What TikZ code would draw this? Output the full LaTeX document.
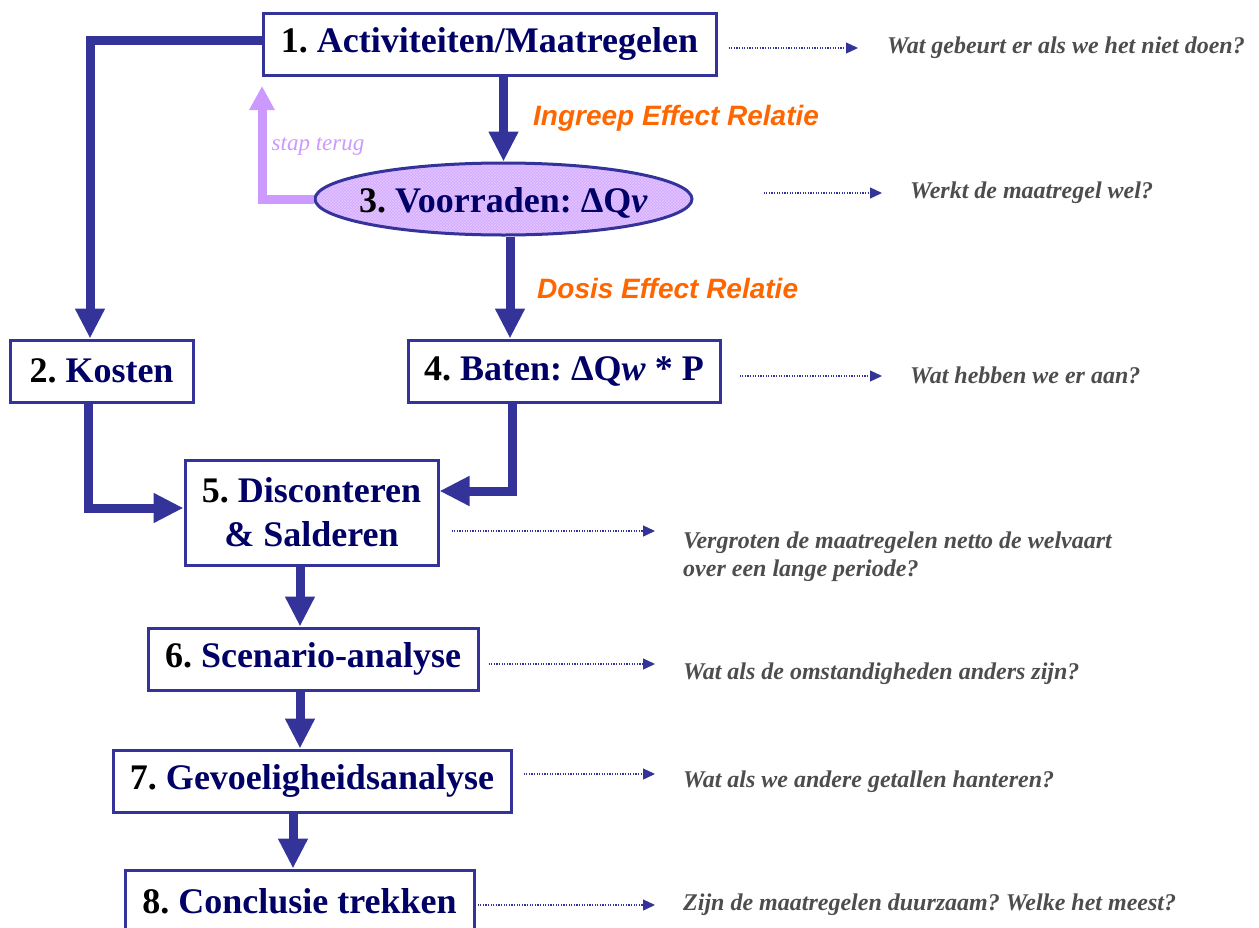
\documentclass[tikz,border=0pt]{standalone}
\usepackage{fontspec}
\setmainfont{Liberation Serif}
\newfontfamily\labelsans{Liberation Sans}
\usetikzlibrary{arrows.meta,shapes.geometric,patterns}

\definecolor{frame}{RGB}{51,51,153}
\definecolor{navy}{RGB}{0,0,102}
\definecolor{relorange}{RGB}{255,102,0}
\definecolor{lilac}{RGB}{204,153,255}
\definecolor{qgray}{RGB}{77,77,77}

\frenchspacing
\begin{document}
\begin{tikzpicture}[x=1pt,y=-1pt,
  stepfont/.style={text=navy, font=\fontsize{36}{44}\selectfont\bfseries},
  stepbox/.style={draw=frame, line width=3pt, fill=white, inner sep=0pt,
    align=center, stepfont},
  flow/.style={draw=frame, line width=9pt,
    -{Triangle[width=28pt,length=30pt]}},
  backflow/.style={draw=lilac, line width=9pt,
    -{Triangle[width=24pt,length=24pt]}},
  qarrow/.style={draw=frame, line width=1.3pt, dash pattern=on 1.3pt off 1.3pt,
    -{Triangle[width=11pt,length=12pt]}},
  question/.style={anchor=west, inner sep=0pt, text=qgray, align=left,
    font=\fontsize{24}{28}\selectfont\bfseries\itshape},
  relation/.style={anchor=west, inner sep=0pt, text=relorange,
    font=\labelsans\fontsize{28}{32}\selectfont\bfseries\itshape}]

\useasboundingbox (0,0) rectangle (1259,927);
\clip (0,0) rectangle (1259,927);

% steps of the analysis
\node[stepbox, minimum width=453pt, minimum height=62pt] (b1) at (489.5,44)
  {{\color{black}1.} Activiteiten/Maatregelen};
\node[ellipse, draw=frame, line width=3pt, inner sep=0pt,
  preaction={fill=lilac!85!white}, pattern=crosshatch, pattern color=lilac!55!white,
  minimum width=377pt, minimum height=72pt,
  label={[stepfont, inner sep=0pt, yshift=-4pt]center:{\color{black}3.} Voorraden: ΔQ\textit{v}}]
  (b3) at (503.5,199) {};
\node[stepbox, minimum width=183pt, minimum height=62pt] (b2) at (101.5,371)
  {{\color{black}2.} Kosten};
\node[stepbox, minimum width=312pt, minimum height=62pt] (b4) at (564,371)
  {{\color{black}4.} Baten: ΔQ\textit{w} * P};
\node[stepbox, minimum width=253pt, minimum height=105pt] (b5) at (311.5,512.5)
  {{\color{black}5.} Disconteren\\\& Salderen};
\node[stepbox, minimum width=330pt, minimum height=62pt] (b6) at (313,659)
  {{\color{black}6.} Scenario-analyse};
\node[stepbox, minimum width=398pt, minimum height=62pt] (b7) at (312,781)
  {{\color{black}7.} Gevoeligheidsanalyse};
\node[stepbox, minimum width=349pt, minimum height=62pt] (b8) at (299.5,901)
  {{\color{black}8.} Conclusie trekken};

% relation labels
\node[relation] (r1) at (533,118) {Ingreep Effect Relatie};
\node[relation] (r2) at (537,288) {Dosis Effect Relatie};
\node[inner sep=0pt, text=lilac, font=\fontsize{23}{27}\selectfont\itshape]
  (back) at (318,146) {stap terug};

% bends of the main flow
\coordinate (c12) at (90,40);
\coordinate (c34) at (510,0);
\coordinate (c31) at (262,86);
\coordinate (c25) at (88,508);
\coordinate (c45) at (512,491);
\coordinate (c56) at (300,0);
\coordinate (c78) at (293,0);

\draw[flow] (b1.west |- c12) -| (b2.north -| c12);
\draw[flow] (b1.south -| b3.north) -- (b3.north);
\draw[flow] (b3.south -| c34) -- (b4.north -| c34);
\draw[backflow] (b3.west) -| (c31);
\draw[flow] (b2.south -| c25) |- (b5.west |- c25);
\draw[flow] (b4.south -| c45) |- (b5.east |- c45);
\draw[flow] (b5.south -| c56) -- (b6.north -| c56);
\draw[flow] (b6.south -| c56) -- (b7.north -| c56);
\draw[flow] (b7.south -| c78) -- (b8.north -| c78);

% guiding questions
\node[question] (q1) at (887,48) {Wat gebeurt er als we het niet doen?};
\node[question] (q3) at (910,193) {Werkt de maatregel wel?};
\node[question] (q4) at (910,375) {Wat hebben we er aan?};
\node[question] (q5) at (683,557) {Vergroten de maatregelen netto de welvaart\\over een lange periode?};
\node[question] (q6) at (683,674) {Wat als de omstandigheden anders zijn?};
\node[question] (q7) at (683,782) {Wat als we andere getallen hanteren?};
\node[question] (q8) at (683,905) {Zijn de maatregelen duurzaam? Welke het meest?};

\coordinate (a1) at (858,48);
\coordinate (a3) at (882,193);
\coordinate (a4) at (882,376);
\coordinate (a5) at (655,531);
\coordinate (a6) at (655,664);
\coordinate (a7) at (655,774);
\coordinate (a8) at (655,905);

\draw[qarrow, shorten <=11pt] (b1.east |- a1) -- (a1);
\draw[qarrow, shorten <=70pt] (b3.east |- a3) -- (a3);
\draw[qarrow, shorten <=18pt] (b4.east |- a4) -- (a4);
\draw[qarrow, shorten <=12pt] (b5.east |- a5) -- (a5);
\draw[qarrow, shorten <=9pt] (b6.east |- a6) -- (a6);
\draw[qarrow, shorten <=11pt] (b7.east |- a7) -- (a7);
\draw[qarrow, shorten <=2pt] (b8.east |- a8) -- (a8);

\end{tikzpicture}
\end{document}
